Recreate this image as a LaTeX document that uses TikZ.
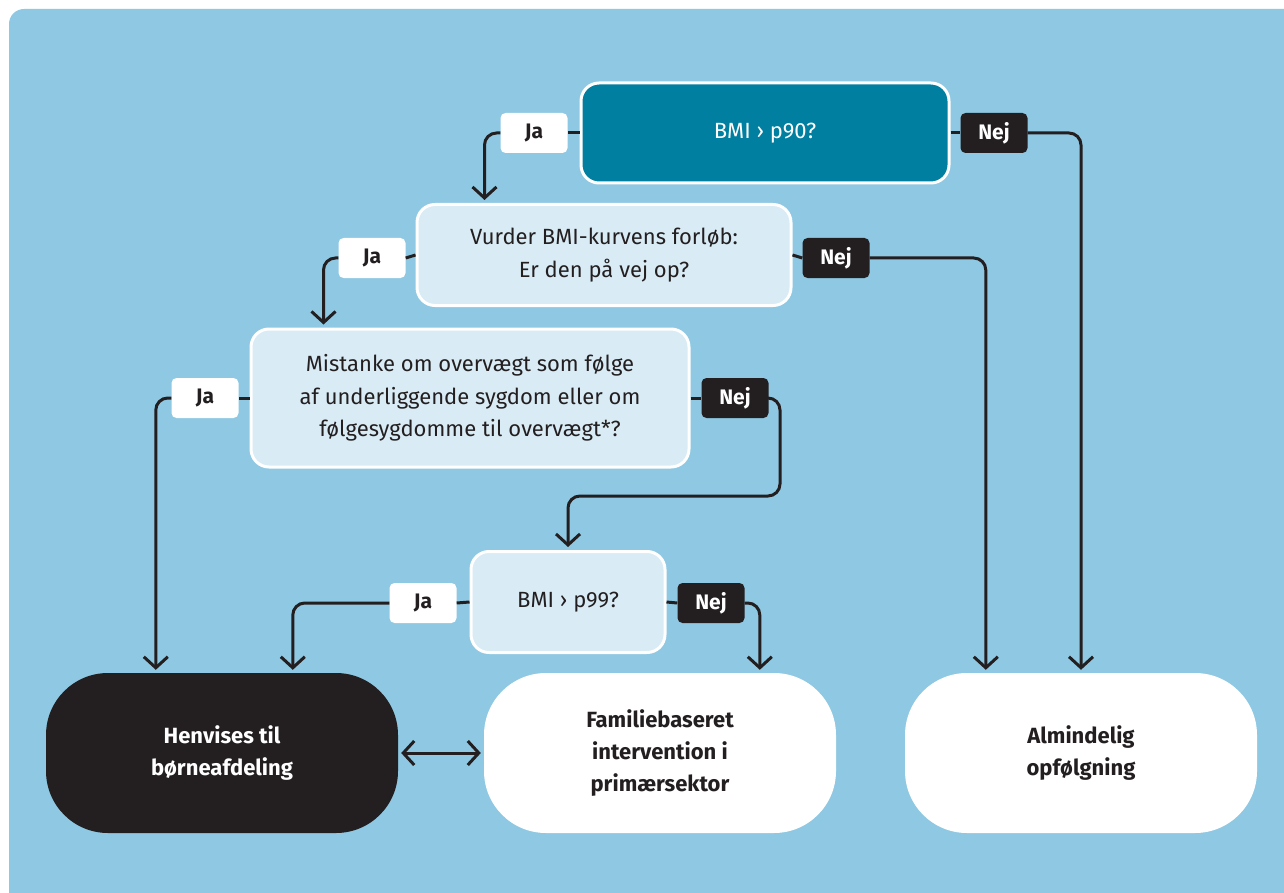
\documentclass[tikz,border=0pt]{standalone}
\usepackage{fontspec}
\setmainfont{Fira Sans}
\usetikzlibrary{arrows.meta,calc}

\definecolor{bgblue}{HTML}{8EC8E2}
\definecolor{petrol}{HTML}{007FA0}
\definecolor{paleblue}{HTML}{D9EBF5}
\definecolor{ink}{HTML}{231F20}

\tikzset{
	question/.style={draw=white, line width=3pt, fill=paleblue, text=ink, rounded corners=18pt, align=center, inner sep=0pt, font=\fontsize{22}{32.5}\selectfont},
	outcome/.style={fill=white, text=ink, rounded corners=62pt, align=center, inner sep=0pt, minimum width=352pt, minimum height=160pt, font=\fontsize{22}{32}\selectfont\bfseries},
	jabox/.style={fill=white, text=ink, rounded corners=5pt, minimum width=67pt, minimum height=40pt, inner sep=0pt, font=\fontsize{21}{22}\selectfont\bfseries},
	nejbox/.style={jabox, fill=ink, text=white},
	conn/.style={draw=ink, line width=3pt, rounded corners=12pt},
	barb/.tip={Straight Barb[length=11pt,width=24pt,line width=3pt]},
	tip/.style={conn, -barb, shorten >=3pt},
}

\begin{document}
\begin{tikzpicture}[x=1pt, y=-1pt]
	\useasboundingbox (0,0) rectangle (1284,893);
	\fill[bgblue] (9,24) arc (180:270:15) -- (1284,9) -- (1284,893) -- (9,893) -- cycle;

	\node[question, fill=petrol, text=white, minimum width=368pt, minimum height=100pt] (p90) at (765,133) {BMI › p90?};
	\node[question, minimum width=374pt, minimum height=101pt] (vurder) at (604,255) {Vurder BMI-kurvens forløb:\\Er den på vej op?};
	\node[question, minimum width=438pt, minimum height=138pt] (mistanke) at (470,398) {Mistanke om overvægt som følge\\af underliggende sygdom eller om\\følgesygdomme til overvægt*?};
	\node[question, minimum width=194pt, minimum height=101pt] (p99) at (568,602) {BMI › p99?};

	\node[outcome, fill=ink, text=white] (henvises) at (222,753) {Henvises til\\børneafdeling};
	\node[outcome] (familie) at (660,753) {Familiebaseret\\intervention i\\primærsektor};
	\node[outcome] (almindelig) at (1081,753) {Almindelig\\opfølgning};

	\node[jabox] (ja1) at (534,133) {Ja};
	\node[nejbox] (nej1) at (994,133) {Nej};
	\node[jabox] (ja2) at (372,258) {Ja};
	\node[nejbox] (nej2) at (836,258) {Nej};
	\node[jabox] (ja3) at (205,398) {Ja};
	\node[nejbox] (nej3) at (735,398) {Nej};
	\node[jabox] (ja4) at (423,603) {Ja};
	\node[nejbox] (nej4) at (711,603) {Nej};

	\coordinate (bend) at (780,496);

	\draw[conn] (p90.west) -- (ja1.east);
	\draw[tip] (ja1.west) -| ($(vurder.north west)+(69,0)$);
	\draw[conn] (p90.east) -- (nej1.west);
	\draw[tip] (nej1.east) -| (almindelig.north);

	\draw[conn] (vurder.west) -- (ja2.east);
	\draw[tip] (ja2.west) -| ($(mistanke.north west)+(74,0)$);
	\draw[conn] (vurder.east) -- (nej2.west);
	\draw[tip] (nej2.east) -| ($(almindelig.north west)+(81,0)$);

	\draw[conn] (mistanke.west) -- (ja3.east);
	\draw[tip] (ja3.west) -| ($(henvises.north west)+(110,0)$);
	\draw[conn] (mistanke.east) -- (nej3.west);
	\draw[tip] (nej3.east) -| (bend) -| (p99.north);

	\draw[conn] (p99.west) -- (ja4.east);
	\draw[tip] (ja4.west) -| ($(henvises.north west)+(247,0)$);
	\draw[conn] (p99.east) -- (nej4.west);
	\draw[tip] (nej4.east) -| ($(familie.north west)+(276,0)$);

	\draw[conn, barb-barb, shorten <=3pt, shorten >=3pt] (henvises.east) -- (familie.west);
\end{tikzpicture}
\end{document}
